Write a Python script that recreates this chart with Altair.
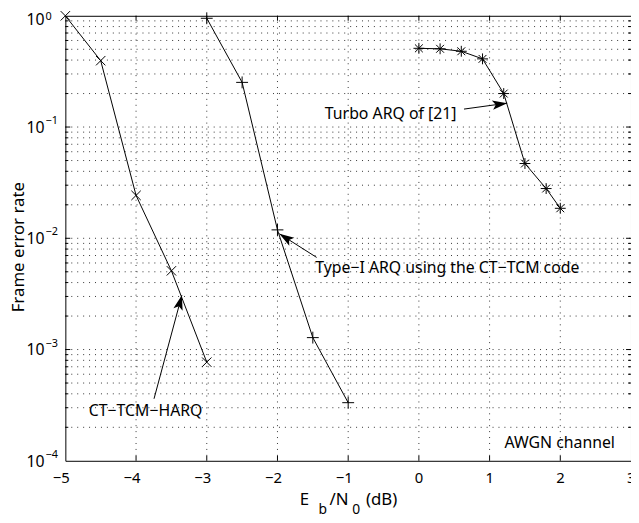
import math
import altair as alt
import pandas as pd

# ---------------- data ----------------
harq_x = [-5.0, -4.5, -4.0, -3.5, -3.0]
harq_y = [1.0, 0.395, 0.0243, 0.0051, 0.00077]

arq_x = [-3.0, -2.5, -2.0, -1.5, -1.0]
arq_y = [0.95, 0.252, 0.0119, 0.00128, 0.000333]

turbo_x = [0.0, 0.3, 0.6, 0.9, 1.2, 1.5, 1.8, 2.0]
turbo_y = [0.51, 0.505, 0.48, 0.41, 0.20, 0.047, 0.028, 0.0186]

x_ticks = [-5, -4, -3, -2, -1, 0, 1, 2, 3]
x_tick_labels = ["−5", "−4", "−3", "−2", "−1", "0", "1", "2", "3"]
y_major = [1e-4, 1e-3, 1e-2, 1e-1, 1.0]
y_exps = ["−4", "−3", "−2", "−1", "0"]
y_minor = [k * 10.0 ** e for e in range(-4, 0) for k in range(2, 10)]

# annotations (data coordinates)
ann_text = ["Turbo ARQ of [21]", "Type−I ARQ using the CT−TCM code", "CT−TCM−HARQ", "AWGN channel"]
ann_x = [-1.33, -1.466, -4.669, 1.211]
ann_y = [0.132, 0.00538, 0.000278, 0.000144]

arrow_tail_x = [0.638, -1.446, -3.746]
arrow_tail_y = [0.145, 0.00673, 0.000361]
arrow_tip_x = [1.249, -1.974, -3.352]
arrow_tip_y = [0.164, 0.0110, 0.00308]

# ---------------- layout ----------------
W, H = 572, 450
FONT = "Noto Sans"

x_scale = alt.Scale(domain=[-5, 3], nice=False, zero=False)
y_scale = alt.Scale(type="log", domain=[1e-4, 1], nice=False)

def X(f):
    return alt.X(f, type="quantitative", scale=x_scale, axis=None)

def Y(f):
    return alt.Y(f, type="quantitative", scale=y_scale, axis=None)

def px(x):
    return (x + 5) / 8 * W

def py(y):
    return -math.log10(y) / 4 * H

series = pd.DataFrame({
    "x": harq_x + arq_x + turbo_x,
    "y": harq_y + arq_y + turbo_y,
    "s": ["harq"] * len(harq_x) + ["arq"] * len(arq_x) + ["turbo"] * len(turbo_x),
})

# grid
ygrid = pd.DataFrame({"v": y_major[1:-1] + y_minor})
xgrid = pd.DataFrame({"v": x_ticks[1:-1]})
grid_style = dict(strokeDash=[1, 5], color="black", strokeWidth=1, opacity=0.8)
hgrid = alt.Chart(ygrid).mark_rule(**grid_style).encode(
    y=Y("v"), x=alt.value(0), x2=alt.value(W))
vgrid = alt.Chart(xgrid).mark_rule(**grid_style).encode(
    x=X("v"), y=alt.value(0), y2=alt.value(H))

# ticks (inward, all four sides)
xt = pd.DataFrame({"v": x_ticks[1:-1]})
ytM = pd.DataFrame({"v": y_major[1:-1]})
ytm = pd.DataFrame({"v": y_minor})
tick = dict(color="black", strokeWidth=1)
ticks = [
    alt.Chart(xt).mark_rule(**tick).encode(x=X("v"), y=alt.value(H), y2=alt.value(H - 5)),
    alt.Chart(xt).mark_rule(**tick).encode(x=X("v"), y=alt.value(0), y2=alt.value(5)),
    alt.Chart(ytM).mark_rule(**tick).encode(y=Y("v"), x=alt.value(0), x2=alt.value(5)),
    alt.Chart(ytM).mark_rule(**tick).encode(y=Y("v"), x=alt.value(W), x2=alt.value(W - 5)),
    alt.Chart(ytm).mark_rule(**tick).encode(y=Y("v"), x=alt.value(0), x2=alt.value(3)),
    alt.Chart(ytm).mark_rule(**tick).encode(y=Y("v"), x=alt.value(W), x2=alt.value(W - 3)),
]

# series lines and markers
lines = alt.Chart(series).mark_line(color="black", strokeWidth=1).encode(
    x=X("x"), y=Y("y"), detail="s:N")

x_path = "M-1,-1L1,1M-1,1L1,-1"
plus_path = "M-1,0L1,0M0,-1L0,1"
star_path = "M-1,0L1,0M0,-1L0,1M-0.72,-0.72L0.72,0.72M-0.72,0.72L0.72,-0.72"

def markers(s, path, size):
    return alt.Chart(series[series.s == s]).mark_point(
        shape=path, size=size, filled=False, color="black", strokeWidth=1, opacity=1
    ).encode(x=X("x"), y=Y("y"))

mk = [markers("harq", x_path, 90), markers("arq", plus_path, 144), markers("turbo", star_path, 121)]

# tick labels
xl = pd.DataFrame({"v": x_ticks, "t": x_tick_labels})
xlabels = alt.Chart(xl).mark_text(
    font=FONT, fontSize=15, align="right", baseline="alphabetic", dx=4.5, color="black"
).encode(x=X("v"), y=alt.value(H + 22), text="t:N")

yl = pd.DataFrame({"v": y_major, "e": y_exps})
yl_low = yl[yl.v < 0.5]
yl_top = yl[yl.v > 0.5]

def ylab(df, dy10, dye):
    a = alt.Chart(df).mark_text(
        font=FONT, fontSize=16, align="right", baseline="middle", color="black", dy=dy10
    ).encode(x=alt.value(-21), y=Y("v"), text=alt.value("10"))
    b = alt.Chart(df).mark_text(
        font=FONT, fontSize=11, align="left", baseline="middle", color="black", dy=dye
    ).encode(x=alt.value(-20), y=Y("v"), text="e:N")
    return [a, b]

ylabels = ylab(yl_low, 1, -6) + ylab(yl_top, 4, 1.5)

# axis titles
ytitle = alt.Chart(pd.DataFrame({"t": ["Frame error rate"]})).mark_text(
    font=FONT, fontSize=17, angle=270, align="center", baseline="middle", color="black"
).encode(x=alt.value(-47), y=alt.value(234), text="t:N")

xt_parts = pd.DataFrame({
    "t": ["E", "b", "/N", "0", "(dB)"],
    "px": [237, 256, 267, 290, 304],
    "py": [H + 45, H + 54, H + 45, H + 54, H + 45],
    "fs": [17, 14, 17, 14, 17],
})
xtitle_main = alt.Chart(xt_parts[xt_parts.fs == 17]).mark_text(
    font=FONT, fontSize=17, align="left", baseline="alphabetic", color="black"
).encode(x=alt.X("px:Q", scale=None, axis=None), y=alt.Y("py:Q", scale=None, axis=None), text="t:N")
xtitle_sub = alt.Chart(xt_parts[xt_parts.fs == 14]).mark_text(
    font=FONT, fontSize=14, align="left", baseline="alphabetic", color="black"
).encode(x=alt.X("px:Q", scale=None, axis=None), y=alt.Y("py:Q", scale=None, axis=None), text="t:N")

# annotations
ann = pd.DataFrame({"t": ann_text, "x": ann_x, "y": ann_y})
ann_layer = alt.Chart(ann).mark_text(
    font=FONT, fontSize=16, align="left", baseline="middle", color="black"
).encode(x=X("x"), y=Y("y"), text="t:N")

angles = []
for tx, ty, hx, hy in zip(arrow_tail_x, arrow_tail_y, arrow_tip_x, arrow_tip_y):
    dx = px(hx) - px(tx)
    dy = py(hy) - py(ty)
    angles.append(math.degrees(math.atan2(dx, -dy)) % 360)

arr = pd.DataFrame({"x1": arrow_tail_x, "y1": arrow_tail_y,
                    "x2": arrow_tip_x, "y2": arrow_tip_y, "a": angles})
arrow_lines = alt.Chart(arr).mark_rule(color="black", strokeWidth=1).encode(
    x=X("x1"), y=Y("y1"), x2="x2:Q", y2="y2:Q")
head_path = "M0,0L-0.32,1L0,0.78L0.32,1Z"
arrow_heads = alt.Chart(arr).mark_point(
    shape=head_path, size=900, filled=True, color="black", opacity=1, strokeWidth=0.5
).encode(x=X("x2"), y=Y("y2"), angle=alt.Angle("a:Q", scale=None))

chart = alt.layer(
    hgrid, vgrid, *ticks, lines, *mk, xlabels, *ylabels,
    ytitle, xtitle_main, xtitle_sub, ann_layer, arrow_lines, arrow_heads
).properties(
    width=W, height=H,
    autosize=alt.AutoSizeParams(type="none"),
    padding={"left": 58, "top": 5, "right": 0, "bottom": 58},
    background="white",
).configure_view(stroke="black", strokeWidth=1)

chart.save("out.html", embed_options={"renderer": "svg", "actions": False})
